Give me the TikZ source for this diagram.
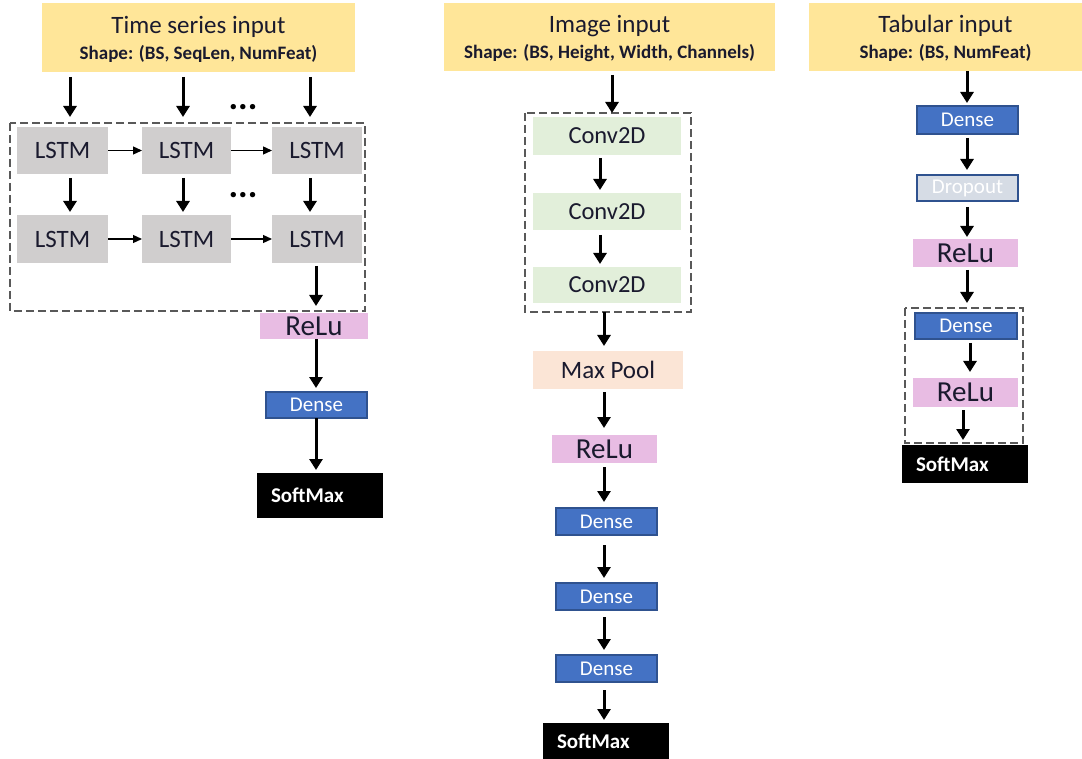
\documentclass[tikz,border=0pt]{standalone}
\usepackage{fontspec}
\setmainfont{Carlito}
\usetikzlibrary{arrows.meta,calc}

\definecolor{hdrfill}{HTML}{FFE699}
\definecolor{lstmfill}{HTML}{D0CECE}
\definecolor{relufill}{HTML}{E8BCE3}
\definecolor{densefill}{HTML}{4472C4}
\definecolor{denseline}{HTML}{2F528F}
\definecolor{convfill}{HTML}{E2EFDA}
\definecolor{poolfill}{HTML}{FBE5D6}
\definecolor{dropfill}{HTML}{D6DCE5}
\definecolor{grouplin}{HTML}{595959}
\definecolor{ink}{HTML}{1A1A2E}

\newcommand{\fs}[1]{\fontsize{#1}{#1}\selectfont}

\begin{document}
\begin{tikzpicture}[x=1pt,y=-1pt,
  every node/.style={inner sep=0pt,outer sep=0pt,text=ink},
  header/.style={fill=hdrfill,align=center,text depth=0pt},
  lstm/.style={fill=lstmfill,font=\fs{25}},
  conv/.style={fill=convfill,font=\fs{24.5}},
  pool/.style={fill=poolfill,font=\fs{25}},
  relu/.style={fill=relufill,font=\fs{29}},
  dense/.style={fill=densefill,draw=denseline,line width=1.3pt,text=white,font=\fs{21}},
  dropbox/.style={fill=dropfill,draw=denseline,line width=1.3pt,text=white,font=\fs{21}},
  softmax/.style={fill=black,text=white,font=\fs{21}\bfseries,align=left,
    inner xsep=14pt,text width=98pt,minimum height=#1},
  group/.style={draw=grouplin,line width=1.8pt,dash pattern=on 8pt off 4pt},
  arr/.style={draw=black,line width=3pt,-{Triangle[width=13pt,length=11pt]}},
  thinarr/.style={draw=black,line width=1.3pt,-{Triangle[width=8pt,length=9pt]}},
  dots/.style={font=\fs{36}\bfseries,text=black,anchor=base}
]
\useasboundingbox (0,0) rectangle (1082,759);

% ---------- time series branch ----------
\node[header,minimum width=313pt,minimum height=69pt] (tsh) at (198.5,37.5)
  {{\fs{25}Time series input}\\[7pt]{\fs{19}\bfseries Shape: (BS, SeqLen, NumFeat)}};

\node[lstm,minimum width=91pt,minimum height=47pt] (l11) at (62.5,150.5) {LSTM};
\node[lstm,minimum width=89pt,minimum height=47pt] (l12) at (186.5,150.5) {LSTM};
\node[lstm,minimum width=90pt,minimum height=47pt] (l13) at (317,150.5) {LSTM};
\node[lstm,minimum width=91pt,minimum height=48pt] (l21) at (62.5,239) {LSTM};
\node[lstm,minimum width=89pt,minimum height=48pt] (l22) at (186.5,239) {LSTM};
\node[lstm,minimum width=90pt,minimum height=48pt] (l23) at (317,239) {LSTM};
\draw[group] (10,123) rectangle (365,311);

\node[relu,minimum width=108pt,minimum height=26pt] (tsrelu) at (314,326) {ReLu};
\node[dense,minimum width=101pt,minimum height=26pt] (tsdense) at (316.5,405) {Dense};
\node[softmax=45pt] (tssm) at (320,495.5) {SoftMax};

\node[dots] (tsdots1) at (243,110) {...};
\node[dots] (tsdots2) at (243,198) {...};

\coordinate (c1) at (70,0);
\coordinate (c2) at (183,0);
\coordinate (c3) at (310,0);
\coordinate (c4) at (316,0);

\draw[arr,shorten <=5pt,shorten >=10pt] (tsh.south -| c1) -- (l11.north -| c1);
\draw[arr,shorten <=5pt,shorten >=10pt] (tsh.south -| c2) -- (l12.north -| c2);
\draw[arr,shorten <=5pt,shorten >=10pt] (tsh.south -| c3) -- (l13.north -| c3);
\draw[arr,shorten <=4pt,shorten >=3pt] (l11.south -| c1) -- (l21.north -| c1);
\draw[arr,shorten <=4pt,shorten >=3pt] (l12.south -| c2) -- (l22.north -| c2);
\draw[arr,shorten <=4pt,shorten >=3pt] (l13.south -| c3) -- (l23.north -| c3);
\draw[thinarr] (l11.east) -- (l12.west);
\draw[thinarr] (l12.east) -- (l13.west);
\draw[thinarr] (l21.east) -- (l22.west);
\draw[thinarr] (l22.east) -- (l23.west);
\draw[arr,shorten <=3pt,shorten >=7pt] (l23.south -| c4) -- (tsrelu.north -| c4);
\draw[arr,shorten >=4pt] (tsrelu.south -| c4) -- (tsdense.north -| c4);
\draw[arr,shorten >=3pt] (tsdense.south -| c4) -- (tssm.north -| c4);

% ---------- image branch ----------
\node[header,minimum width=331pt,minimum height=68pt] (imh) at (609.5,37)
  {{\fs{25}Image input}\\[7pt]{\fs{19}\bfseries Shape: (BS, Height, Width, Channels)}};

\node[conv,minimum width=148pt,minimum height=38pt] (cv1) at (607,136) {Conv2D};
\node[conv,minimum width=148pt,minimum height=37pt] (cv2) at (607,211.5) {Conv2D};
\node[conv,minimum width=148pt,minimum height=36pt] (cv3) at (607,285) {Conv2D};
\draw[group] (525,113) rectangle (691,312);

\node[pool,minimum width=150pt,minimum height=38pt] (mp) at (608,370) {Max Pool};
\node[relu,minimum width=105pt,minimum height=28pt] (imrelu) at (604.5,449) {ReLu};
\node[dense,minimum width=101pt,minimum height=27pt] (imd1) at (606.5,521.5) {Dense};
\node[dense,minimum width=101pt,minimum height=27pt] (imd2) at (606.5,596.5) {Dense};
\node[dense,minimum width=101pt,minimum height=27pt] (imd3) at (606.5,668.5) {Dense};
\node[softmax=36pt] (imsm) at (606,741) {SoftMax};

\coordinate (c5) at (612,0);
\coordinate (c6) at (600,0);
\coordinate (c7) at (604,0);

\draw[arr,shorten <=4pt,shorten >=4pt] (imh.south -| c5) -- (cv1.north -| c5);
\draw[arr,shorten <=3pt,shorten >=3pt] (cv1.south -| c6) -- (cv2.north -| c6);
\draw[arr,shorten <=5pt,shorten >=3pt] (cv2.south -| c6) -- (cv3.north -| c6);
\draw[arr,shorten <=9pt,shorten >=5pt] (cv3.south -| c7) -- (mp.north -| c7);
\draw[arr,shorten <=3pt,shorten >=7pt] (mp.south -| c7) -- (imrelu.north -| c7);
\draw[arr,shorten <=4pt,shorten >=6pt] (imrelu.south -| c7) -- (imd1.north -| c7);
\draw[arr,shorten <=10pt,shorten >=5pt] (imd1.south -| c7) -- (imd2.north -| c7);
\draw[arr,shorten <=7pt,shorten >=5pt] (imd2.south -| c7) -- (imd3.north -| c7);
\draw[arr,shorten <=8pt,shorten >=3pt] (imd3.south -| c7) -- (imsm.north -| c7);

% ---------- tabular branch ----------
\node[header,minimum width=273pt,minimum height=68pt] (tbh) at (945.5,37)
  {{\fs{25}Tabular input}\\[7pt]{\fs{19}\bfseries Shape: (BS, NumFeat)}};

\node[dense,minimum width=101pt,minimum height=28pt] (tbd1) at (967.5,120) {Dense};
\node[dropbox,minimum width=101pt,minimum height=26pt] (tbdrop) at (967.5,188) {Dropout};
\node[relu,minimum width=105pt,minimum height=28pt] (tbrelu1) at (965.5,253) {ReLu};
\node[dense,minimum width=102pt,minimum height=26pt] (tbd2) at (966,326) {Dense};
\node[relu,minimum width=105pt,minimum height=29pt] (tbrelu2) at (965.5,392.5) {ReLu};
\draw[group] (905,308) rectangle (1023,443);
\node[softmax=38pt] (tbsm) at (965,464) {SoftMax};

\coordinate (c8) at (967,0);
\coordinate (c9) at (970,0);
\coordinate (c10) at (963,0);

\draw[arr,shorten >=3pt] (tbh.south -| c8) -- (tbd1.north -| c8);
\draw[arr,shorten <=4pt,shorten >=5pt] (tbd1.south -| c8) -- (tbdrop.north -| c8);
\draw[arr,shorten <=6pt,shorten >=2pt] (tbdrop.south -| c8) -- (tbrelu1.north -| c8);
\draw[arr,shorten <=3pt,shorten >=10pt] (tbrelu1.south -| c8) -- (tbd2.north -| c8);
\draw[arr,shorten <=4pt,shorten >=6pt] (tbd2.south -| c9) -- (tbrelu2.north -| c9);
\draw[arr,shorten <=3pt,shorten >=5pt] (tbrelu2.south -| c10) -- (tbsm.north -| c10);
\end{tikzpicture}
\end{document}
